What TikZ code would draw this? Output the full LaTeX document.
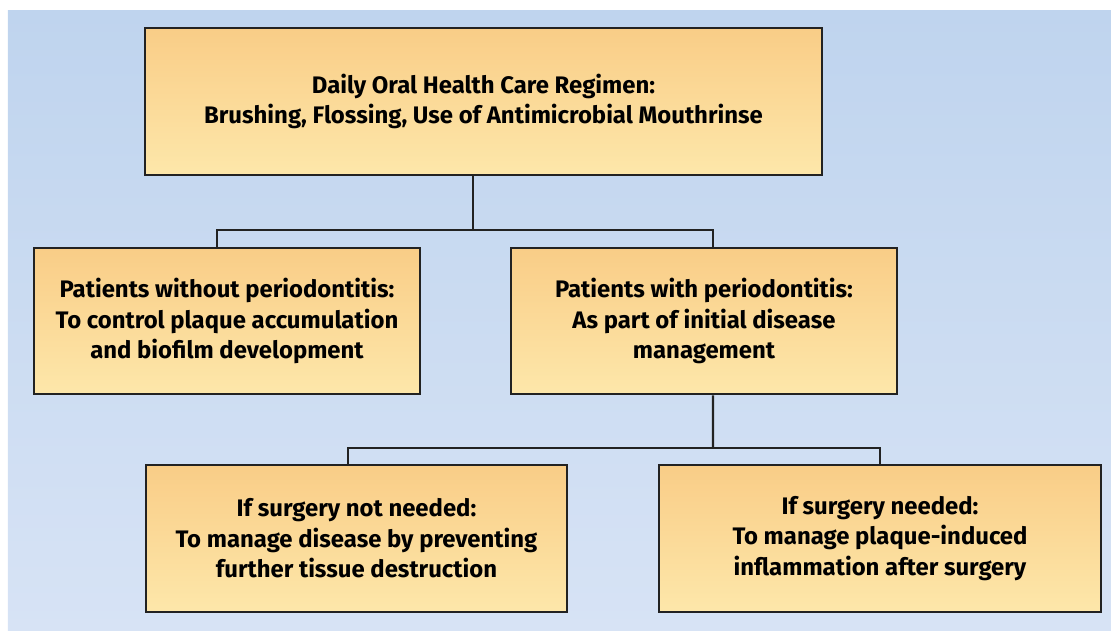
\documentclass[tikz,border=0pt]{standalone}
\usepackage{fontspec}
\setmainfont{Fira Sans}
\usepackage{tikz}
\usetikzlibrary{calc, positioning}
\usepackage{xcolor}
\definecolor{bgtop}{HTML}{BFD4EE}
\definecolor{bgbot}{HTML}{D7E3F5}
\definecolor{boxtop}{HTML}{F9CD87}
\definecolor{boxbot}{HTML}{FDE7AA}
\definecolor{edge}{HTML}{222222}

\begin{document}
\begin{tikzpicture}[
  regbox/.style={draw=edge, line width=1.8pt, rectangle, align=center,
                 top color=boxtop, bottom color=boxbot, inner sep=6pt,
                 font=\fontsize{17}{21.7}\selectfont\bfseries},
  link/.style={draw=edge, line width=1.5pt}
]
\useasboundingbox (0,0) rectangle (27.775,-15.775);
\fill[top color=bgtop, bottom color=bgbot] (0.2,-0.275) rectangle (27.775,-15.775);

\node[regbox, minimum width=16.925cm, minimum height=3.675cm] (regimen) at (12.0875,-2.5375) {
  Daily Oral Health Care Regimen:\\ Brushing, Flossing, Use of Antimicrobial Mouthrinse
};

\node[regbox, minimum width=9.65cm, minimum height=3.65cm] (without) at (5.675,-8.025) {
  Patients without periodontitis:\\ To control plaque accumulation\\ and biofilm development
};
\node[regbox, minimum width=9.65cm, minimum height=3.65cm] (with) at (17.6,-8.025) {
  Patients with periodontitis:\\ As part of initial disease\\ management
};

\node[regbox, minimum width=10.525cm, minimum height=3.675cm] (nosurg) at (8.9125,-13.4625) {
  If surgery not needed:\\ To manage disease by preventing\\ further tissue destruction
};
\node[regbox, minimum width=11.05cm, minimum height=3.675cm] (surg) at (22.0,-13.4625) {
  If surgery needed:\\ To manage plaque-induced\\ inflammation after surgery
};

% branches
\coordinate (split1) at (11.825,-5.75);
\draw[link] (regimen.south -| split1) -- (split1);
\draw[link] ([xshift=-0.25cm]without.north) |- (split1) -| ([xshift=0.225cm]with.north);

\coordinate (split2) at (17.825,-11.2);
\draw[link] ([xshift=0.225cm]with.south) -- (split2);
\draw[link] ([xshift=-0.2125cm]nosurg.north) |- (split2) -| (surg.north);

\end{tikzpicture}
\end{document}
